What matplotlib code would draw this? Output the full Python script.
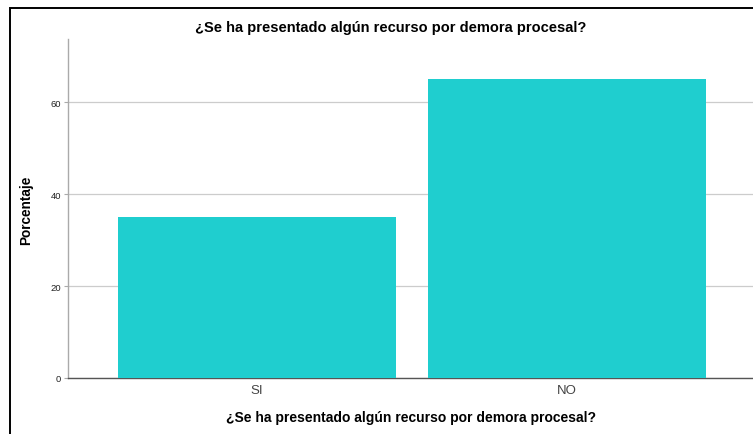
import matplotlib.pyplot as plt
from matplotlib.patches import Rectangle

categories = ['SI', 'NO']
porcentajes = [35.0, 65.0]
yticks = [0, 20, 40, 60]
titulo = '¿Se ha presentado algún recurso por demora procesal?'

plt.rcParams['font.family'] = ['Liberation Sans', 'DejaVu Sans']

fig = plt.figure(figsize=(7.53, 4.35), dpi=100)
W, H = 753, 435

# axes placed in pixel terms, right edge runs past the figure like the original
left, right, bottom, top = 68, 756, 379, 40
ax = fig.add_axes([left / W, 1 - bottom / H, (right - left) / W, (bottom - top) / H])

x = range(len(categories))
ax.bar(x, porcentajes, width=0.897, color='#1fcecf', zorder=3)

ax.set_xlim(-0.61, 1.61)
ax.set_ylim(0, 73.7)
ax.set_yticks(yticks)
ax.set_yticklabels([str(t) for t in yticks], fontsize=6.8, color='#222222')
ax.set_xticks(list(x))
ax.set_xticklabels(categories, fontsize=9.5, color='#444444')
ax.tick_params(axis='y', length=3, width=0.8, color='#aaaaaa', pad=2)
ax.tick_params(axis='x', length=0, pad=4)
ax.yaxis.grid(True, color='#cccccc', linewidth=0.9, zorder=0)

for s in ['top', 'right']:
    ax.spines[s].set_visible(False)
ax.spines['left'].set_color('#aaaaaa')
ax.spines['left'].set_linewidth(1.0)
ax.spines['bottom'].set_color('#555555')
ax.spines['bottom'].set_linewidth(1.0)

ax.set_ylabel('Porcentaje', fontsize=9.8, fontweight='bold')
ax.yaxis.set_label_coords((33 - left) / (right - left), (bottom - 210) / (bottom - top))

fig.text(391 / W, 1 - 28 / H, titulo, ha='center', va='center',
         fontsize=10.5, fontweight='bold')
fig.text(411 / W, 1 - 418 / H, titulo, ha='center', va='center',
         fontsize=10.0, fontweight='bold')

# outer frame (only left and top visible in the crop)
fig.patches.append(Rectangle((10 / W, -0.1), 1.2, 1 - 9 / H + 0.1,
                             transform=fig.transFigure, fill=False,
                             edgecolor='black', linewidth=1.4))

fig.savefig('out.png', dpi=100)
